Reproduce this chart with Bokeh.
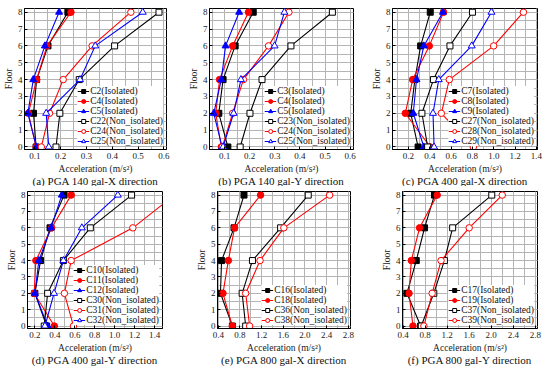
from bokeh.plotting import figure
from bokeh.layouts import column, row
from bokeh.models import Range1d, FixedTicker, NumeralTickFormatter, Legend, LegendItem, Title
from bokeh.embed import file_html
from bokeh.resources import INLINE

floors = [0, 2, 4, 6, 8]

# (a) PGA 140 gal - X
a_C2 = [0.105, 0.095, 0.107, 0.151, 0.228]
a_C4 = [0.105, 0.075, 0.107, 0.147, 0.240]
a_C5 = [0.106, 0.073, 0.094, 0.139, 0.194]
a_C22 = [0.182, 0.197, 0.272, 0.409, 0.581]
a_C24 = [0.125, 0.157, 0.210, 0.322, 0.472]
a_C25 = [0.154, 0.144, 0.275, 0.334, 0.518]

# (b) PGA 140 gal - Y
b_C3 = [0.113, 0.077, 0.094, 0.142, 0.214]
b_C4 = [0.087, 0.065, 0.080, 0.132, 0.195]
b_C5 = [0.090, 0.057, 0.087, 0.104, 0.158]
b_C23 = [0.162, 0.201, 0.249, 0.364, 0.529]
b_C24 = [0.091, 0.132, 0.175, 0.275, 0.356]
b_C25 = [0.094, 0.136, 0.165, 0.299, 0.338]

# (c) PGA 400 gal - X
c_C7 = [0.290, 0.221, 0.260, 0.314, 0.404]
c_C8 = [0.404, 0.170, 0.239, 0.395, 0.529]
c_C9 = [0.344, 0.245, 0.275, 0.344, 0.523]
c_C27 = [0.380, 0.326, 0.434, 0.589, 0.800]
c_C28 = [0.808, 0.508, 0.583, 0.999, 1.278]
c_C29 = [0.440, 0.430, 0.484, 0.793, 0.978]

# (d) PGA 400 gal - Y
d_C10 = [0.318, 0.200, 0.257, 0.352, 0.493]
d_C11 = [0.395, 0.193, 0.210, 0.368, 0.564]
d_C12 = [0.328, 0.200, 0.240, 0.362, 0.470]
d_C30 = [0.294, 0.328, 0.486, 0.756, 1.170]
d_C31 = [0.587, 0.496, 0.564, 1.183, 1.600]
d_C32 = [0.301, 0.392, 0.486, 0.671, 1.032]

# (e) PGA 800 gal - X
e_C16 = [0.660, 0.440, 0.460, 0.690, 0.874]
e_C18 = [0.658, 0.486, 0.585, 0.700, 1.180]
e_C36 = [0.905, 0.840, 1.030, 1.550, 2.060]
e_C38 = [0.978, 0.905, 1.170, 1.610, 2.455]

# (f) PGA 800 gal - Y
f_C17 = [0.720, 0.470, 0.640, 0.790, 0.970]
f_C19 = [0.580, 0.508, 0.550, 0.700, 1.020]
f_C37 = [0.730, 0.958, 1.150, 1.300, 2.010]
f_C39 = [0.778, 0.928, 1.090, 1.600, 2.200]

# tick labels
ticks_small = [0.1, 0.2, 0.3, 0.4, 0.5, 0.6]
minor_small = [0.05, 0.1, 0.15, 0.2, 0.25, 0.3, 0.35, 0.4, 0.45, 0.5, 0.55, 0.6]
ticks_mid = [0.2, 0.4, 0.6, 0.8, 1.0, 1.2, 1.4]
minor_mid = [0.1, 0.2, 0.3, 0.4, 0.5, 0.6, 0.7, 0.8, 0.9, 1.0, 1.1, 1.2, 1.3, 1.4]
ticks_big = [0.4, 0.8, 1.2, 1.6, 2.0, 2.4, 2.8]
minor_big = [0.4, 0.6, 0.8, 1.0, 1.2, 1.4, 1.6, 1.8, 2.0, 2.2, 2.4, 2.6, 2.8]
y_ticks = [0, 1, 2, 3, 4, 5, 6, 7, 8]
y_minor = [0, 0.5, 1, 1.5, 2, 2.5, 3, 3.5, 4, 4.5, 5, 5.5, 6, 6.5, 7, 7.5, 8]

FONT = "Liberation Serif"
COLORS = ["#000000", "#ff0000", "#0000ff"]
MARKERS = ["square", "circle", "triangle"]
SIZES = [6, 6.5, 7]
GRID = "#b4b4b4"


def panel(width, height, bl, br, bt, bb, xr, ticks, minor, series, title, toff, tstand):
    p = figure(width=width, height=height, output_backend="svg", toolbar_location=None,
               x_range=Range1d(*xr), y_range=Range1d(-0.15, 8.22),
               min_border_left=bl, min_border_right=br, min_border_top=bt, min_border_bottom=bb)
    p.outline_line_color = "black"
    p.outline_line_width = 1
    xt = FixedTicker(ticks=ticks, minor_ticks=minor)
    yt = FixedTicker(ticks=y_ticks, minor_ticks=y_minor)
    p.xaxis.ticker = xt
    p.yaxis.ticker = yt
    p.xaxis.formatter = NumeralTickFormatter(format="0.0")
    for ax in (p.xaxis, p.yaxis):
        ax.axis_line_color = "black"
        ax.major_tick_in = 3
        ax.major_tick_out = 0
        ax.minor_tick_in = 0
        ax.minor_tick_out = 0
        ax.major_label_text_font = FONT
        ax.major_label_text_font_size = "9px"
        ax.major_label_text_color = "#222222"
        ax.axis_label_text_font = FONT
        ax.axis_label_text_font_size = "9.5px"
        ax.axis_label_text_font_style = "normal"
        ax.axis_label_text_color = "#222222"
    p.xaxis.major_label_standoff = 3
    p.xaxis.axis_label_standoff = 2
    p.yaxis.major_label_standoff = 2
    p.yaxis.axis_label_standoff = 1
    p.xaxis.axis_label = "Acceleration (m/s\u00b2)"
    p.yaxis.axis_label = "Floor"
    for g in p.xgrid + p.ygrid:
        g.grid_line_color = GRID
        g.grid_line_width = 1
        g.grid_line_alpha = 1.0
        g.minor_grid_line_color = GRID
        g.minor_grid_line_width = 1
        g.minor_grid_line_alpha = 1.0
        g.level = "underlay"

    items = []
    for name, vals, ci, filled in series:
        col = COLORS[ci]
        lr = p.line(vals, floors, line_color=col, line_width=1.1)
        sr = p.scatter(vals, floors, marker=MARKERS[ci], size=SIZES[ci], line_color=col,
                       fill_color=col if filled else "white", line_width=1)
        items.append(LegendItem(label=name, renderers=[lr, sr]))
    lg = Legend(items=items, location="bottom_right", label_text_font=FONT,
                label_text_font_size="9.5px", label_text_color="#111111",
                glyph_width=12, glyph_height=10, label_height=10, label_standoff=1,
                spacing=0, padding=1, margin=3, border_line_color=None,
                background_fill_color="white", background_fill_alpha=1.0)
    p.add_layout(lg)
    p.add_layout(Title(text=title, align="center", offset=toff, standoff=tstand,
                       text_font=FONT, text_font_size="11px", text_font_style="normal",
                       text_color="#111111"), "below")
    return p


pa = panel(185, 186, 20, 19, 8, 37, (0.06, 0.61), ticks_small, minor_small,
           [("C2(Isolated)", a_C2, 0, True), ("C4(Isolated)", a_C4, 1, True),
            ("C5(Isolated)", a_C5, 2, True), ("C22(Non_isolated)", a_C22, 0, False),
            ("C24(Non_isolated)", a_C24, 1, False), ("C25(Non_isolated)", a_C25, 2, False)],
           "(a) PGA 140 gal-X direction", -12, -8)
pb = panel(183, 186, 20, 15, 8, 37, (0.04, 0.613), ticks_small, minor_small,
           [("C3(Isolated)", b_C3, 0, True), ("C4(Isolated)", b_C4, 1, True),
            ("C5(Isolated)", b_C5, 2, True), ("C23(Non_isolated)", b_C23, 0, False),
            ("C24(Non_isolated)", b_C24, 1, False), ("C25(Non_isolated)", b_C25, 2, False)],
           "(b) PGA 140 gal-Y direction", -13, -8)
pc = panel(182, 186, 22, 13, 8, 37, (0.05, 1.41), ticks_mid, minor_mid,
           [("C7(Isolated)", c_C7, 0, True), ("C8(Isolated)", c_C8, 1, True),
            ("C9(Isolated)", c_C9, 2, True), ("C27(Non_isolated)", c_C27, 0, False),
            ("C28(Non_isolated)", c_C28, 1, False), ("C29(Non_isolated)", c_C29, 2, False)],
           "(c) PGA 400 gal-X direction", -10, -8)
pd_ = panel(190, 180, 27, 28, 5, 38, (0.126, 1.48), ticks_mid, minor_mid,
            [("C10(Isolated)", d_C10, 0, True), ("C11(Isolated)", d_C11, 1, True),
             ("C12(Isolated)", d_C12, 2, True), ("C30(Non_isolated)", d_C30, 0, False),
             ("C31(Non_isolated)", d_C31, 1, False), ("C32(Non_isolated)", d_C32, 2, False)],
            "(d) PGA 400 gal-Y direction", -5, -8)
pe = panel(183, 180, 27, 23, 5, 38, (0.385, 2.84), ticks_big, minor_big,
           [("C16(Isolated)", e_C16, 0, True), ("C18(Isolated)", e_C18, 1, True),
            ("C36(Non_isolated)", e_C36, 0, False), ("C38(Non_isolated)", e_C38, 1, False)],
           "(e) PGA 800 gal-X direction", -9, -8)
pf = panel(177, 180, 29, 13, 5, 38, (0.39, 2.84), ticks_big, minor_big,
           [("C17(Isolated)", f_C17, 0, True), ("C19(Isolated)", f_C19, 1, True),
            ("C37(Non_isolated)", f_C37, 0, False), ("C39(Non_isolated)", f_C39, 1, False)],
           "(f) PGA 800 gal-Y direction", -13, -8)

layout = column(row(pa, pb, pc, spacing=0), row(pd_, pe, pf, spacing=0), spacing=0)
open("out.html", "w").write(file_html(layout, INLINE))
